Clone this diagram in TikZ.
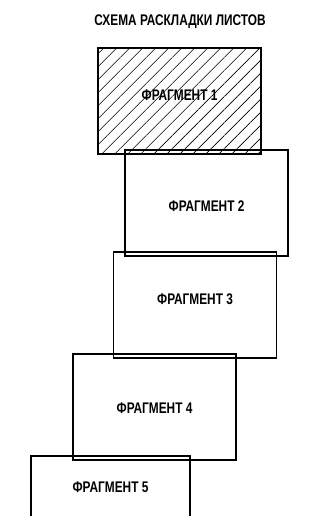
\documentclass[tikz,border=0pt]{standalone}
\usepackage{fontspec}
\setmainfont[FakeStretch=0.77]{Liberation Sans}
\usetikzlibrary{patterns.meta}

\begin{document}
\begin{tikzpicture}[
    x=1pt, y=1pt,
    sheet/.style={draw, line width=1.3pt, minimum width=163pt,
                minimum height=106pt, inner sep=0pt},
    lbl/.style={font=\fontsize{15.4}{18}\selectfont\bfseries, inner sep=0pt},
    hatched/.style={pattern={Lines[angle=45, distance=9.2pt, line width=0.6pt]}}
]
\useasboundingbox (0,0) rectangle (326,516);
\node[lbl] (title) at (180,494) {СХЕМА РАСКЛАДКИ ЛИСТОВ};
\node[sheet, hatched, label={[lbl, yshift=6pt]center:ФРАГМЕНТ 1}] (frag1) at (179.5,415) {};
\node[sheet, label={[lbl, yshift=-3pt]center:ФРАГМЕНТ 2}] (frag2) at (206.5,313) {};
\node[sheet, label={[lbl, yshift=6pt]center:ФРАГМЕНТ 3}] (frag3) at (195,211) {};
\node[sheet, label={[lbl, yshift=-1pt]center:ФРАГМЕНТ 4}] (frag4) at (154.5,109) {};
\node[sheet, minimum width=159pt, label={[lbl, yshift=22pt]center:ФРАГМЕНТ 5}] (frag5) at (110.5,7) {};
\end{tikzpicture}
\end{document}
